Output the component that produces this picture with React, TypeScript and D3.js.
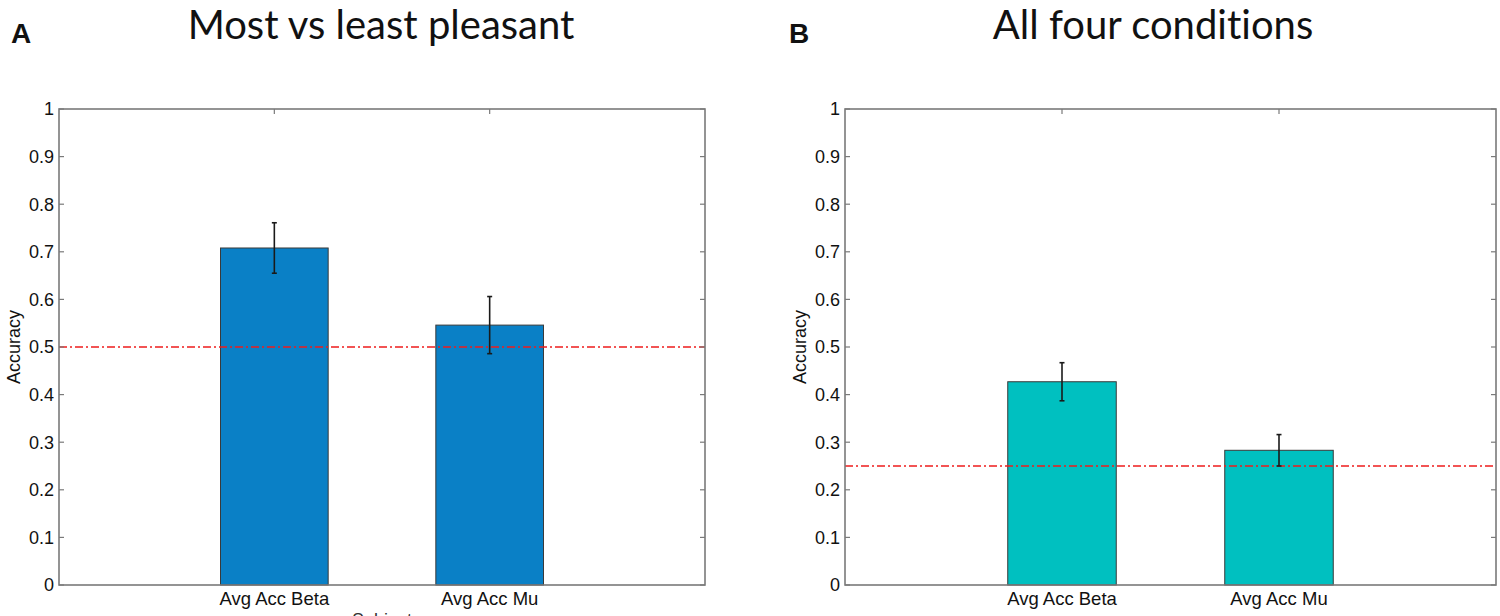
import React from "react";
import * as d3 from "d3";

const categories = ["Avg Acc Beta", "Avg Acc Mu"];
const accPleasant = [0.708, 0.546];
const errPleasant = [0.053, 0.06];
const accFour = [0.427, 0.283];
const errFour = [0.04, 0.033];
const yTicks = [0, 0.1, 0.2, 0.3, 0.4, 0.5, 0.6, 0.7, 0.8, 0.9, 1];
const chanceLevels = [0.5, 0.25];
const titles = ["Most vs least pleasant", "All four conditions"];
const letters = ["A", "B"];
const colors = ["#0a80c6", "#00c0c0"];
const xAxisLabel = "Subject";

type PanelProps = {
  x0: number;
  x1: number;
  y0: number;
  y1: number;
  values: number[];
  errs: number[];
  chance: number;
  color: string;
  title: string;
  titleX: number;
  letter: string;
  letterX: number;
  showXLabel: boolean;
};

const ARIAL = "Arial, 'Liberation Sans', Helvetica, sans-serif";

function Panel(p: PanelProps) {
  const x = d3.scaleLinear().domain([0, 3]).range([p.x0, p.x1]);
  const y = d3.scaleLinear().domain([0, 1]).range([p.y1, p.y0]);
  const bw = x(0.5) - x(0);
  const axisColor = "#7a7a7a";
  const tickLen = 5;
  return (
    <g>
      <text x={p.letterX} y={43} fontFamily={ARIAL} fontWeight="bold" fontSize={28} fill="#111">
        {p.letter}
      </text>
      <text
        x={p.titleX}
        y={39}
        textAnchor="middle"
        fontFamily="Lato, 'Open Sans', sans-serif"
        fontSize={40}
        fill="#111"
        style={{ fontVariantLigatures: "none" }}
      >
        {p.title}
      </text>
      {p.values.map((v, i) => (
        <rect
          key={"b" + i}
          x={x(i + 1) - bw / 2}
          y={y(v)}
          width={bw}
          height={y(0) - y(v)}
          fill={p.color}
          stroke="#3a3a3a"
          strokeWidth={1}
        />
      ))}
      <line
        x1={p.x0}
        x2={p.x1}
        y1={y(p.chance)}
        y2={y(p.chance)}
        stroke="#ee1c1c"
        strokeWidth={1.3}
        strokeDasharray="8,3,2,3"
      />
      {p.values.map((v, i) => {
        const cx = x(i + 1);
        const cap = 2.5;
        return (
          <g key={"e" + i} stroke="#1a1a1a" strokeWidth={1.6}>
            <line x1={cx} x2={cx} y1={y(v + p.errs[i])} y2={y(v - p.errs[i])} />
            <line x1={cx - cap} x2={cx + cap} y1={y(v + p.errs[i])} y2={y(v + p.errs[i])} />
            <line x1={cx - cap} x2={cx + cap} y1={y(v - p.errs[i])} y2={y(v - p.errs[i])} />
          </g>
        );
      })}
      <rect x={p.x0} y={p.y0} width={p.x1 - p.x0} height={p.y1 - p.y0} fill="none" stroke={axisColor} strokeWidth={1.6} />
      {yTicks.map((t) => (
        <g key={"t" + t}>
          <line x1={p.x0} x2={p.x0 + tickLen} y1={y(t)} y2={y(t)} stroke={axisColor} strokeWidth={1.2} />
          <line x1={p.x1} x2={p.x1 - tickLen} y1={y(t)} y2={y(t)} stroke={axisColor} strokeWidth={1.2} />
          <text x={p.x0 - 5} y={y(t)} dy="0.35em" textAnchor="end" fontFamily={ARIAL} fontSize={18} fill="#111">
            {t === 0 || t === 1 ? String(t) : t.toFixed(1)}
          </text>
        </g>
      ))}
      {categories.map((c, i) => (
        <g key={"c" + i}>
          <line x1={x(i + 1)} x2={x(i + 1)} y1={p.y0} y2={p.y0 + tickLen} stroke={axisColor} strokeWidth={1.2} />
          <text x={x(i + 1)} y={p.y1 + 20} textAnchor="middle" fontFamily={ARIAL} fontSize={18.5} fill="#111">
            {c}
          </text>
        </g>
      ))}
      <text
        transform={`translate(${p.x0 - 39},${(p.y0 + p.y1) / 2}) rotate(-90)`}
        textAnchor="middle"
        fontFamily={ARIAL}
        fontSize={18}
        fill="#111"
      >
        Accuracy
      </text>
      {p.showXLabel && (
        <text x={(p.x0 + p.x1) / 2} y={p.y1 + 41} textAnchor="middle" fontFamily={ARIAL} fontSize={18} fill="#333">
          {xAxisLabel}
        </text>
      )}
    </g>
  );
}

export default function App() {
  return (
    <svg width={1500} height={616} style={{ position: "absolute", left: 0, top: 0, background: "#fff", display: "block" }}>
      <rect x={0} y={0} width={1500} height={616} fill="#fff" />
      <Panel
        x0={59}
        x1={705}
        y0={109}
        y1={585}
        values={accPleasant}
        errs={errPleasant}
        chance={chanceLevels[0]}
        color={colors[0]}
        title={titles[0]}
        titleX={381}
        letter={letters[0]}
        letterX={11}
        showXLabel={true}
      />
      <Panel
        x0={845}
        x1={1496}
        y0={109}
        y1={585}
        values={accFour}
        errs={errFour}
        chance={chanceLevels[1]}
        color={colors[1]}
        title={titles[1]}
        titleX={1153}
        letter={letters[1]}
        letterX={789}
        showXLabel={false}
      />
    </svg>
  );
}
